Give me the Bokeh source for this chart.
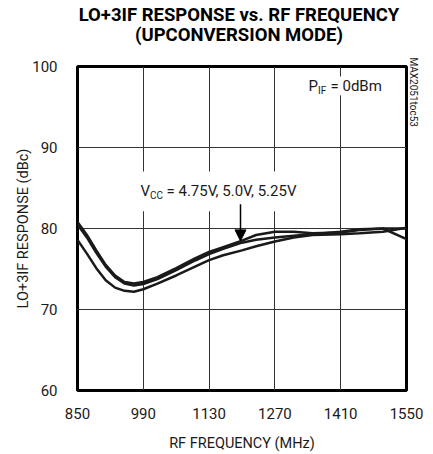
from bokeh.plotting import figure
from bokeh.layouts import column
from bokeh.models import (FixedTicker, Label, BoxAnnotation, Arrow, NormalHead, Range1d, Title, Div)
from bokeh.embed import file_html
from bokeh.resources import INLINE

# ---- data ----
freq = [850, 870, 890, 910, 930, 950, 970, 990, 1020, 1060, 1100, 1130, 1160, 1200,
        1230, 1270, 1310, 1350, 1410, 1450, 1500, 1550]
resp_a = [80.8, 79.2, 77.3, 75.5, 74.2, 73.4, 73.2, 73.4, 74.0, 75.1, 76.3, 77.1, 77.7, 78.5,
          79.2, 79.6, 79.6, 79.4, 79.5, 79.8, 80.0, 80.0]
resp_b = [80.5, 78.9, 77.0, 75.3, 74.0, 73.2, 72.95, 73.15, 73.75, 74.85, 76.05, 76.85, 77.5, 78.25,
          78.6, 78.9, 79.1, 79.3, 79.6, 79.9, 80.0, 78.7]
resp_c = [78.6, 76.9, 75.1, 73.6, 72.7, 72.3, 72.2, 72.5, 73.2, 74.2, 75.3, 76.1, 76.7, 77.3,
          77.8, 78.4, 78.9, 79.2, 79.3, 79.4, 79.6, 80.1]
x_ticks = [850, 990, 1130, 1270, 1410, 1550]
y_ticks = [60, 70, 80, 90, 100]
title_lines = ["LO+3IF RESPONSE vs. RF FREQUENCY", "(UPCONVERSION MODE)"]

FONT = "Roboto"
TXT = "#1a1a1a"
TITLE_H = 50

title_div = Div(
    text=("<div style=\"font-family:Roboto;font-weight:bold;font-size:18.5px;line-height:20px;"
          "text-align:center;color:black;width:420px;padding-left:58px;padding-top:5px;"
          "box-sizing:border-box;white-space:nowrap;\">" + "<br>".join(title_lines) + "</div>"),
    width=433, height=TITLE_H, margin=0)

p = figure(width=433, height=454 - TITLE_H, output_backend="svg", toolbar_location=None,
           x_range=Range1d(850, 1550), y_range=Range1d(60, 100),
           min_border_left=77, min_border_right=27, min_border_top=66 - TITLE_H,
           min_border_bottom=61)
p.title = None
p.background_fill_color = "white"
p.border_fill_color = "white"
p.outline_line_color = "black"
p.outline_line_width = 3

for ax in (p.xaxis[0], p.yaxis[0]):
    ax.axis_line_color = None
    ax.major_tick_line_color = None
    ax.minor_tick_line_color = None
    ax.major_label_text_font = FONT
    ax.major_label_text_font_size = "15px"
    ax.major_label_text_color = TXT
    ax.axis_label_text_font = FONT
    ax.axis_label_text_font_size = "14.5px"
    ax.axis_label_text_font_style = "normal"
    ax.axis_label_text_color = TXT

p.xaxis.ticker = FixedTicker(ticks=x_ticks)
p.yaxis.ticker = FixedTicker(ticks=y_ticks)
p.xaxis.axis_label = "RF FREQUENCY (MHz)"
p.yaxis.axis_label = "LO+3IF RESPONSE (dBc)"
p.xaxis.major_label_standoff = 11
p.xaxis.axis_label_standoff = 13
p.yaxis.major_label_standoff = 14
p.yaxis.axis_label_standoff = -3

p.xgrid.ticker = FixedTicker(ticks=x_ticks)
p.ygrid.ticker = FixedTicker(ticks=y_ticks)
p.grid.grid_line_color = "#333333"
p.grid.grid_line_width = 1
p.grid.grid_line_alpha = 1

# curves
for ys in (resp_c, resp_b, resp_a):
    p.line(freq, ys, line_color="#1a1a1a", line_width=2.5, line_join="round")

def px2x(px):
    return 850 + (px - 77) * 700 / 329.0

def py2y(py):
    return 60 + (393 - py) * 40 / 327.0

# side id
p.add_layout(Title(text="MAX2051toc53", align="left", text_font=FONT, text_font_size="10px",
                   text_font_style="normal", text_color=TXT, standoff=2, offset=-9), "right")

# white boxes behind annotations
p.add_layout(BoxAnnotation(left=px2x(138), right=px2x(306), top=py2y(172), bottom=py2y(212),
                           fill_color="white", fill_alpha=1, line_color=None, level="overlay"))
p.add_layout(BoxAnnotation(left=px2x(300), right=px2x(393), top=py2y(76), bottom=py2y(95),
                           fill_color="white", fill_alpha=1, line_color=None, level="overlay"))

# P_IF = 0dBm
p.add_layout(Label(x=px2x(317.5), y=py2y(86), text="P", text_font=FONT, text_font_size="15px",
                   text_align="right", text_baseline="middle", text_color=TXT, level="overlay"))
p.add_layout(Label(x=px2x(317.5), y=py2y(90), text="IF", text_font=FONT, text_font_size="10px",
                   text_align="left", text_baseline="middle", text_color=TXT, level="overlay"))
p.add_layout(Label(x=px2x(330), y=py2y(86), text="= 0dBm", text_font=FONT, text_font_size="15px",
                   text_align="left", text_baseline="middle", text_color=TXT, level="overlay"))

# VCC
p.add_layout(Label(x=px2x(149.5), y=py2y(192), text="V", text_font=FONT, text_font_size="15px",
                   text_align="right", text_baseline="middle", text_color=TXT, level="overlay"))
p.add_layout(Label(x=px2x(149.5), y=py2y(196.5), text="CC", text_font=FONT, text_font_size="10px",
                   text_align="left", text_baseline="middle", text_color=TXT, level="overlay"))
p.add_layout(Label(x=px2x(166), y=py2y(192), text="= 4.75V, 5.0V, 5.25V", text_font=FONT,
                   text_font_size="15px", text_align="left", text_baseline="middle",
                   text_color=TXT, level="overlay"))

# arrow
p.add_layout(Arrow(end=NormalHead(size=11, fill_color="black", line_color="black"),
                   x_start=px2x(240), y_start=py2y(205), x_end=px2x(240), y_end=py2y(242),
                   line_color="black", line_width=1.5, level="overlay"))

layout = column(title_div, p, spacing=0)
open("out.html", "w").write(file_html(layout, INLINE))
